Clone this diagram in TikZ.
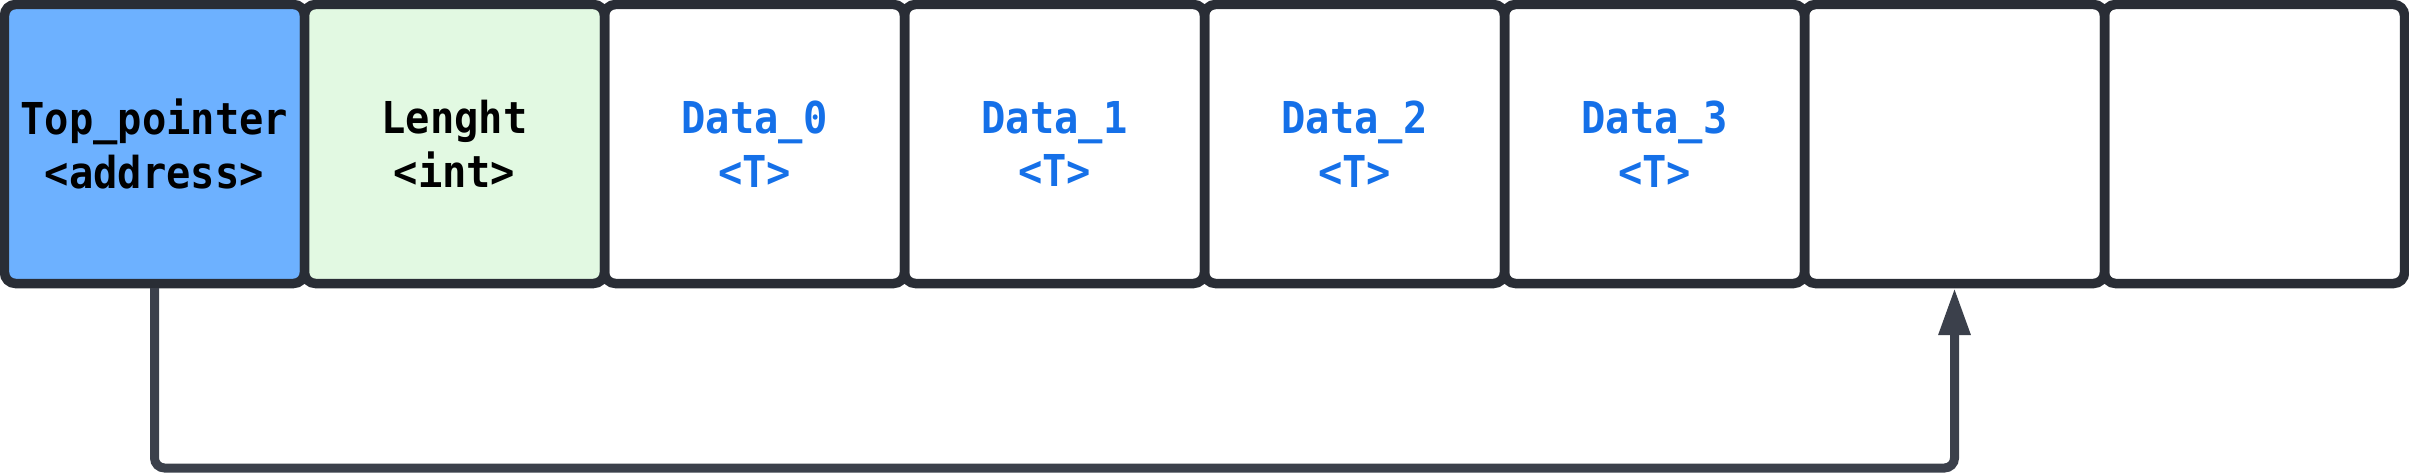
\documentclass[tikz,border=0pt]{standalone}
\usepackage{fontspec}
\setmonofont[FakeStretch=0.92]{DejaVu Sans Mono}
\usetikzlibrary{arrows.meta}
\definecolor{cellline}{HTML}{292D35}
\definecolor{pointerline}{HTML}{3B404B}
\definecolor{topfill}{HTML}{6DB1FF}
\definecolor{lenfill}{HTML}{E2F9E2}
\definecolor{datablue}{HTML}{1570E8}
\tikzset{
  cell/.style={draw=cellline, line width=0.19cm, rounded corners=0.22cm,
    minimum width=6cm, minimum height=5.58cm, inner sep=0pt, outer sep=0pt,
    align=center, font=\fontsize{25}{30.6}\selectfont\ttfamily\bfseries},
  datacell/.style={cell, text=datablue},
  pointer/.style={draw=pointerline, line width=0.18cm, rounded corners=0.2cm,
    -{Triangle[width=0.6cm, length=0.94cm]}}
}

\begin{document}
\begin{tikzpicture}
		%%%%% START %%%%%
		\useasboundingbox (0, 0) rectangle (48.18, 9.46);
		
		\node[cell, fill=topfill] (top) at (3.09, 6.58) {Top\_pointer\\<address>};
		\node[cell, fill=lenfill] (len) at (9.09, 6.58) {Lenght\\<int>};
		
		\node[datacell] (d0) at (15.09, 6.58) {Data\_0\\<T>};
		\node[datacell] (d1) at (21.09, 6.58) {Data\_1\\<T>};
		\node[datacell] (d2) at (27.09, 6.58) {Data\_2\\<T>};
		\node[datacell] (d3) at (33.09, 6.58) {Data\_3\\<T>};
		
		\node[cell] (e0) at (39.09, 6.58) {};
		\node[cell] (e1) at (45.09, 6.58) {};
		
		\coordinate (low) at (0, 0.1);
		\draw[pointer] ([yshift=-0.09cm]top.south) |- (low -| e0.south) -- ([yshift=-0.09cm]e0.south);
		
		%%%%% END %%%%%
	\end{tikzpicture}
\end{document}
